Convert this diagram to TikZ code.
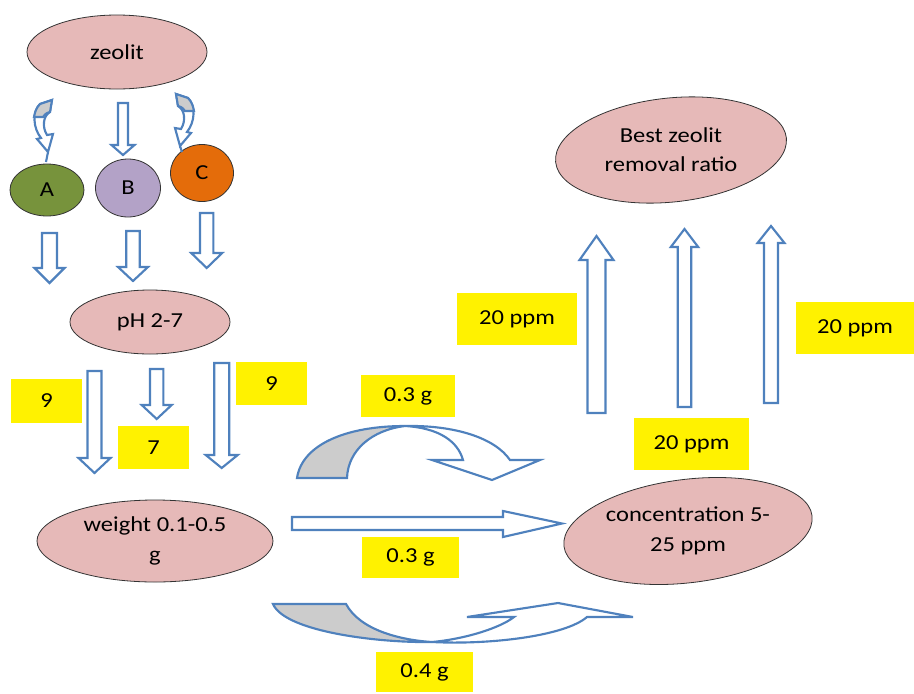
\documentclass[tikz,border=0pt]{standalone}
\usepackage{fontspec}
\setmainfont[FakeStretch=1.15]{Carlito}
\usetikzlibrary{shapes.geometric}
\definecolor{pinkfill}{HTML}{E6B9B8}
\definecolor{arrowblue}{HTML}{4F81BD}
\definecolor{backgray}{HTML}{CCCCCC}
\definecolor{afill}{HTML}{77933C}
\definecolor{bfill}{HTML}{B3A2C7}
\definecolor{cfill}{HTML}{E46C0A}
% block arrow: x, start y, tip y, shaft half width, head half width, head base y
\newcommand{\fatarrow}[6]{%
  \draw[barrow] ({#1-#4},#2) -- ({#1-#4},#6) -- ({#1-#5},#6) -- (#1,#3)
    -- ({#1+#5},#6) -- ({#1+#4},#6) -- ({#1+#4},#2) -- cycle;}
\begin{document}
\begin{tikzpicture}[x=0.75pt, y=-0.75pt, font=\fontsize{16}{22}\selectfont,
    blob/.style={ellipse, draw=black!80, fill=pinkfill, line width=0.6pt, inner sep=0pt},
    tag/.style={fill=yellow, inner sep=0pt},
    barrow/.style={draw=arrowblue, fill=white, line width=1.6pt, line join=miter},
    back/.style={barrow, fill=backgray}]
  \useasboundingbox (0,0) rectangle (914,693);

  % ellipses
  \node[blob, minimum width=135pt, minimum height=55.5pt] (zeolit) at (117,52) {zeolit};
  \node[blob, fill=afill, minimum width=55.5pt, minimum height=39pt] (A) at (47,190) {A};
  \node[blob, fill=bfill, minimum width=48.75pt, minimum height=43.5pt] (B) at (128,188) {B};
  \node[blob, fill=cfill, minimum width=47.25pt, minimum height=42.75pt] (C) at (202,173) {C};
  \node[blob, minimum width=120pt, minimum height=48pt] (ph) at (150,322) {pH 2-7};
  \node[blob, minimum width=177pt, minimum height=61.5pt, align=center] (weight) at (155,541) {weight 0.1-0.5\\g};
  \node[blob, rotate=7, minimum width=187.5pt, minimum height=77.5pt] (conc) at (688,531) {};
  \node[align=center] (conctext) at (conc) {concentration 5-\\25 ppm};
  \node[blob, rotate=6, minimum width=174pt, minimum height=78pt] (best) at (671,150) {};
  \node[align=center] (besttext) at (best) {Best zeolit\\removal ratio};

  % yellow labels
  \node[tag, minimum width=53.25pt, minimum height=33pt] (nineleft) at (46.5,401) {9};
  \node[tag, minimum width=53.25pt, minimum height=32.25pt] (seven) at (153.5,447.5) {7};
  \node[tag, minimum width=53.25pt, minimum height=32.25pt] (nineright) at (271.5,383.5) {9};
  \node[tag, minimum width=70.5pt, minimum height=31.5pt] (gtop) at (408,396) {0.3 g};
  \node[tag, minimum width=72.75pt, minimum height=30.75pt] (gmid) at (410.5,557.5) {0.3 g};
  \node[tag, minimum width=72.75pt, minimum height=30pt] (gbot) at (424.5,672) {0.4 g};
  \node[tag, minimum width=90pt, minimum height=39pt] (ppmleft) at (517,319) {20 ppm};
  \node[tag, minimum width=88.5pt, minimum height=39pt] (ppmright) at (855,328) {20 ppm};
  \node[tag, minimum width=86.25pt, minimum height=39pt] (ppmlow) at (691.5,444) {20 ppm};

  % straight block arrows
  \fatarrow{123}{103}{155}{5}{11.5}{145}
  \fatarrow{49.5}{233}{283}{7.5}{15}{268}
  \fatarrow{133}{231}{281}{6.7}{15}{267}
  \fatarrow{206.7}{213}{268}{6.7}{15.5}{253}
  \fatarrow{94.5}{371}{473}{7}{16}{458}
  \fatarrow{156.7}{369}{419}{6.7}{15}{405}
  \fatarrow{221.7}{363}{468}{7.5}{16}{455}
  \fatarrow{596.5}{413}{236}{9}{17}{260}
  \fatarrow{684.5}{407}{229}{6.7}{13.7}{247}
  \fatarrow{771}{403}{226}{7}{13.5}{243}
  \draw[barrow] (292,517) -- (503,517) -- (503,511) -- (562,523.5) -- (503,537)
    -- (503,530) -- (292,530) -- cycle;

  % small curved arrows above A and C
  \draw[barrow] (52,100) -- (50,112) .. controls (43,116) and (42,127) .. (47,135)
    -- (53,134) -- (48,152) -- (37,139) -- (41,138) .. controls (33,128) and (32,112) .. (40,104) -- cycle;
  \draw[back] (40,104) -- (52,100) -- (50,112) .. controls (46,113) and (44,115) .. (43,117)
    -- (34,117) .. controls (35,111) and (37,107) .. (40,104) -- cycle;
  \draw[barrow] (48,152) -- (46,162);
  \begin{scope}[shift={(228,-6)}, xscale=-1]
    \draw[barrow] (52,100) -- (50,112) .. controls (43,116) and (42,127) .. (47,135)
      -- (53,134) -- (48,152) -- (37,139) -- (41,138) .. controls (33,128) and (32,112) .. (40,104) -- cycle;
    \draw[back] (40,104) -- (52,100) -- (50,112) .. controls (46,113) and (44,115) .. (43,117)
      -- (34,117) .. controls (35,111) and (37,107) .. (40,104) -- cycle;
    \draw[barrow] (48,152) -- (46,158);
  \end{scope}

  % curved arrow, top
  \draw[back] (297,478) .. controls (302,445) and (345,426) .. (405,426)
    .. controls (372,430) and (348,450) .. (347,478) -- cycle;
  \draw[barrow] (405,426) .. controls (440,428) and (458,442) .. (463,460) -- (432,460)
    -- (492,480) -- (540,460) -- (510,460) .. controls (495,438) and (455,425) .. (405,426) -- cycle;

  % curved arrow, bottom
  \draw[back] (273,604) -- (346,604) .. controls (360,630) and (400,640) .. (432,642)
    .. controls (380,643) and (285,632) .. (273,604) -- cycle;
  \draw[barrow] (432,642) .. controls (465,639) and (500,628) .. (514,617) -- (467,617)
    -- (558,603) -- (633,617) -- (587,617) .. controls (565,636) and (490,645) .. (432,642) -- cycle;
\end{tikzpicture}
\end{document}
